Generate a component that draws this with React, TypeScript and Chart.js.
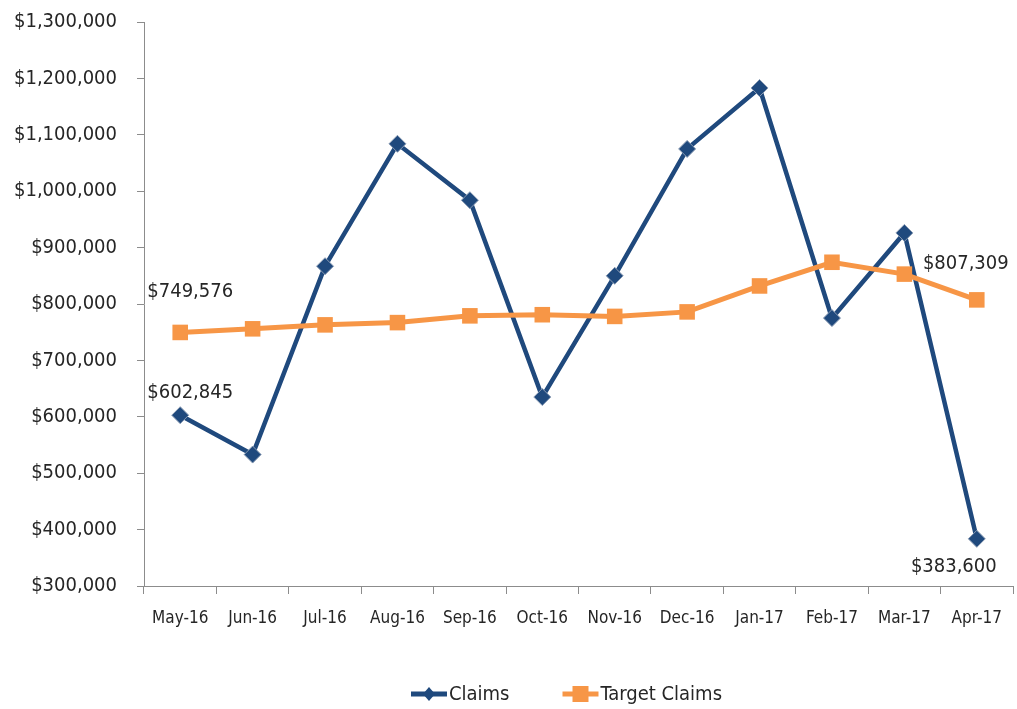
import React, { useEffect, useRef } from "react";
import { Chart, registerables } from "chart.js";

Chart.register(...registerables);

const months = [
  "May-16", "Jun-16", "Jul-16", "Aug-16", "Sep-16", "Oct-16",
  "Nov-16", "Dec-16", "Jan-17", "Feb-17", "Mar-17", "Apr-17",
];

const claims = [
  602845, 533000, 867000, 1084000, 984000, 635000,
  850000, 1075000, 1183000, 775000, 926000, 383600,
];

const targetClaims = [
  749576, 756000, 763000, 767000, 779000, 781000,
  778000, 786000, 832000, 874000, 853000, 807309,
];

const yTicks = { min: 300000, max: 1300000, step: 100000 };

const NAVY = "#1F497D";
const ORANGE = "#F79646";
const TEXT = "#262626";
const AXIS = "#8C8C8C";
const FONT = "'DejaVu Sans Condensed', 'Liberation Sans Narrow', sans-serif";

const money = (v: number) => "$" + Math.round(v).toLocaleString("en-US");

// Value callouts: which point of which series, and where the text sits relative to it
const callouts = [
  { ds: 1, idx: 0, dx: 10, dy: -22 },
  { ds: 1, idx: 11, dx: -23, dy: 28 },
  { ds: 0, idx: 0, dx: 10, dy: -41 },
  { ds: 0, idx: 11, dx: -11, dy: -36 },
];

const calloutPlugin = {
  id: "callouts",
  afterDatasetsDraw(chart: any) {
    const ctx = chart.ctx;
    ctx.save();
    ctx.font = `20px ${FONT}`;
    ctx.fillStyle = TEXT;
    ctx.textAlign = "center";
    ctx.textBaseline = "middle";
    for (const c of callouts) {
      const meta = chart.getDatasetMeta(c.ds);
      const el = meta.data[c.idx];
      const value = chart.data.datasets[c.ds].data[c.idx] as number;
      ctx.fillText(money(value), el.x + c.dx, el.y + c.dy);
    }
    ctx.restore();
  },
};

// Legend drawn as line + marker swatches below the axis
const legendPlugin = {
  id: "lineLegend",
  afterDraw(chart: any) {
    const ctx = chart.ctx;
    const area = chart.chartArea;
    const items = [
      { text: "Claims", color: NAVY, style: "diamond" },
      { text: "Target Claims", color: ORANGE, style: "square" },
    ];
    ctx.save();
    ctx.font = `20px ${FONT}`;
    const swatch = 36;
    const gapText = 2;
    const gapItem = 53;
    const widths = items.map((it) => swatch + gapText + ctx.measureText(it.text).width);
    const total = widths.reduce((a, b) => a + b, 0) + gapItem * (items.length - 1);
    let x = (area.left + area.right) / 2 - 12 - total / 2;
    const y = 694;
    items.forEach((it, i) => {
      ctx.strokeStyle = it.color;
      ctx.lineWidth = 5;
      ctx.beginPath();
      ctx.moveTo(x, y);
      ctx.lineTo(x + swatch, y);
      ctx.stroke();
      ctx.fillStyle = it.color;
      const cx = x + swatch / 2;
      if (it.style === "diamond") {
        ctx.beginPath();
        ctx.moveTo(cx, y - 7);
        ctx.lineTo(cx + 6, y);
        ctx.lineTo(cx, y + 7);
        ctx.lineTo(cx - 6, y);
        ctx.closePath();
        ctx.fill();
      } else {
        ctx.fillRect(cx - 8, y - 8, 16, 16);
      }
      ctx.fillStyle = TEXT;
      ctx.textAlign = "left";
      ctx.textBaseline = "middle";
      ctx.fillText(it.text, x + swatch + gapText, y + 1);
      x += widths[i] + gapItem;
    });
    ctx.restore();
  },
};

export default function App() {
  const canvasRef = useRef<HTMLCanvasElement | null>(null);

  useEffect(() => {
    if (!canvasRef.current) return;
    const chart = new Chart(canvasRef.current, {
      type: "line",
      data: {
        labels: months,
        datasets: [
          {
            label: "Target Claims",
            data: targetClaims,
            borderColor: ORANGE,
            backgroundColor: ORANGE,
            borderWidth: 5,
            pointStyle: "rect",
            pointRadius: 11,
            pointBorderWidth: 0,
            pointBackgroundColor: ORANGE,
            tension: 0,
            order: 0,
          },
          {
            label: "Claims",
            data: claims,
            borderColor: NAVY,
            backgroundColor: NAVY,
            borderWidth: 4.5,
            pointStyle: "rectRot",
            pointRadius: 8.5,
            pointBorderWidth: 1,
            pointBorderColor: "#8A9BB3",
            pointBackgroundColor: NAVY,
            tension: 0,
            order: 1,
          },
        ],
      },
      options: {
        responsive: false,
        animation: false,
        layout: { padding: { top: 22, left: 0, right: 0, bottom: 0 } },
        plugins: {
          legend: { display: false },
          tooltip: { enabled: false },
        },
        scales: {
          x: {
            type: "category",
            offset: true,
            border: { display: true, color: AXIS, width: 1 },
            grid: {
              display: true,
              offset: true,
              drawOnChartArea: false,
              drawTicks: true,
              tickLength: 8,
              color: AXIS,
            },
            ticks: {
              color: TEXT,
              font: { family: FONT, size: 17 },
              padding: 14,
              maxRotation: 0,
              autoSkip: false,
            },
            afterFit(scale: any) {
              scale.height = 123;
            },
          },
          y: {
            min: yTicks.min,
            max: yTicks.max,
            border: { display: true, color: AXIS, width: 1 },
            grid: {
              display: true,
              drawOnChartArea: false,
              drawTicks: true,
              tickLength: 7,
              color: AXIS,
            },
            ticks: {
              stepSize: yTicks.step,
              color: TEXT,
              font: { family: FONT, size: 20 },
              padding: 20,
              callback: (v: any) => money(Number(v)),
            },
            afterFit(scale: any) {
              scale.width = 144;
              scale.paddingTop = 0;
              scale.paddingBottom = 0;
            },
          },
        },
      },
      plugins: [calloutPlugin, legendPlugin],
    });
    return () => chart.destroy();
  }, []);

  return (
    <div
      style={{
        position: "fixed",
        left: 0,
        top: 0,
        width: 1017,
        height: 709,
        overflow: "hidden",
        background: "#ffffff",
      }}
    >
      <canvas ref={canvasRef} width={1024} height={709} style={{ display: "block" }} />
    </div>
  );
}
